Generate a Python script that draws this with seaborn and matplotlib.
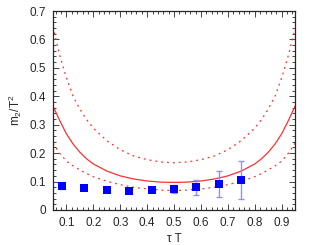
import numpy as np
import pandas as pd
import seaborn as sns
import matplotlib
matplotlib.use("Agg")
import matplotlib.pyplot as plt
from matplotlib.ticker import MultipleLocator, FuncFormatter

# curves (tau*T, m2/T2)
curve_x = [0.05, 0.075, 0.1, 0.125, 0.15, 0.175, 0.2, 0.25, 0.3, 0.35, 0.4, 0.45, 0.5,
           0.55, 0.6, 0.65, 0.7, 0.75, 0.8, 0.825, 0.85, 0.875, 0.9, 0.925, 0.95]
central = [0.366, 0.315, 0.268, 0.232, 0.203, 0.18, 0.162, 0.137, 0.12, 0.109, 0.102, 0.098, 0.097,
           0.098, 0.102, 0.109, 0.12, 0.137, 0.162, 0.18, 0.203, 0.232, 0.268, 0.315, 0.366]
upper = [0.645, 0.545, 0.465, 0.40, 0.355, 0.318, 0.288, 0.244, 0.212, 0.19, 0.177, 0.169, 0.166,
         0.169, 0.177, 0.19, 0.212, 0.244, 0.288, 0.318, 0.355, 0.40, 0.465, 0.545, 0.64]
lower = [0.235, 0.2, 0.172, 0.155, 0.141, 0.128, 0.117, 0.101, 0.089, 0.08, 0.074, 0.07, 0.068,
         0.07, 0.074, 0.08, 0.089, 0.101, 0.117, 0.128, 0.141, 0.155, 0.172, 0.2, 0.235]

# lattice points
tau = [1/12, 2/12, 3/12, 4/12, 5/12, 6/12, 7/12, 8/12, 9/12]
m2 = [0.085, 0.077, 0.070, 0.068, 0.069, 0.073, 0.080, 0.090, 0.105]
err = [0.010, 0.006, 0.005, 0.005, 0.006, 0.015, 0.027, 0.046, 0.066]

curves = pd.DataFrame({"x": curve_x, "c": central, "u": upper, "l": lower})
pts = pd.DataFrame({"x": tau, "y": m2, "e": err})

sns.set_style("ticks")
plt.rcParams['font.family'] = ['Liberation Sans', 'DejaVu Sans']
plt.rcParams['mathtext.fontset'] = 'custom'
plt.rcParams['mathtext.rm'] = 'Liberation Sans'
plt.rcParams['mathtext.it'] = 'Liberation Sans'

fig = plt.figure(figsize=(3.15, 2.45), dpi=100)
ax = fig.add_axes([0.168, 0.143, 0.769, 0.812])

red = "#ff3030"
dots = (0, (1.5, 3.2))
sns.lineplot(data=curves, x="x", y="u", ax=ax, color=red, lw=0.9, linestyle=dots)
sns.lineplot(data=curves, x="x", y="c", ax=ax, color=red, lw=0.9)
sns.lineplot(data=curves, x="x", y="l", ax=ax, color=red, lw=0.9, linestyle=dots)

ax.errorbar(pts.x, pts.y, yerr=pts.e, fmt="none", ecolor="#8f8fff", elinewidth=1,
            capsize=2.2, capthick=1)
sns.scatterplot(data=pts, x="x", y="y", ax=ax, marker="s", s=26, color="#0000ff",
                linewidth=0, zorder=5)

ax.set_xlim(0.05, 0.95)
ax.set_ylim(0, 0.7)
ax.xaxis.set_major_locator(MultipleLocator(0.1))
ax.xaxis.set_minor_locator(MultipleLocator(0.02))
ax.yaxis.set_major_locator(MultipleLocator(0.1))
ax.yaxis.set_minor_locator(MultipleLocator(0.02))
fmt = FuncFormatter(lambda v, p: "%g" % round(v, 2))
ax.xaxis.set_major_formatter(fmt)
ax.yaxis.set_major_formatter(fmt)
ax.tick_params(which="both", direction="in", top=True, right=True, labelsize=8.5, pad=5)
ax.tick_params(which="major", length=4, width=0.6)
ax.tick_params(which="minor", length=2, width=0.6)
for s in ax.spines.values():
    s.set_linewidth(0.9)
    s.set_visible(True)

ax.set_xlabel(r"τ T", fontsize=8.5, labelpad=3)
ax.set_ylabel(r"m$_2$/T$^2$", fontsize=8.5, labelpad=4)

fig.savefig("out.png", dpi=100)
